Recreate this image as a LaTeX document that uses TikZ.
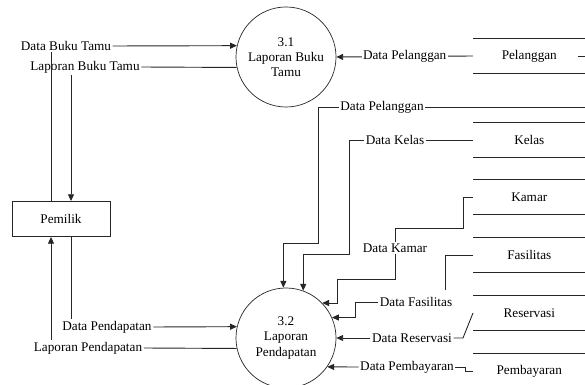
\documentclass[tikz,border=0pt]{standalone}
\usepackage{fontspec}
\setmainfont{Liberation Serif}
\usetikzlibrary{arrows.meta}
\newcommand{\dfdfont}{\fontsize{9.4}{10.8}\selectfont}

\begin{document}
\begin{tikzpicture}[
      x=0.025cm, y=-0.025cm,
      proc/.style={circle, draw=black!85, line width=0.5pt, minimum size=2.5cm, inner sep=0pt, align=center, font=\dfdfont},
      entity/.style={draw=black!85, line width=0.6pt, minimum width=2.45cm, minimum height=0.875cm, font=\dfdfont},
      store/.style={minimum width=2.8cm, minimum height=0.875cm, inner sep=0pt, font=\dfdfont},
      lbl/.style={inner sep=1pt, text=black, font=\dfdfont},
      flow/.style={line width=0.65pt, black!85},
      arrow/.style={flow, -{Triangle[length=1.7mm, width=1.5mm]}}
  ]
      \useasboundingbox (0,0) rectangle (585,385);

      \node[proc] (lapbuku) at (286,57) {3.1\\Laporan Buku\\Tamu};
      \node[proc] (lappend) at (286,338) {3.2\\Laporan\\Pendapatan};
      \node[entity] (pemilik) at (61,219) {Pemilik};

      \foreach \name/\ypos/\txt in {pelanggan/56/Pelanggan, kelas/140/Kelas, kamar/197/Kamar,
          fasilitas/255/Fasilitas, reservasi/313/Reservasi, pembayaran/371/Pembayaran}{
        \node[store, anchor=west] (\name) at (473,\ypos) {\txt};
        \draw[flow] (\name.north west) -- (\name.north east) (\name.south west) -- (\name.south east);
      }

      \node[lbl] (dbt) at (66,46) {Data Buku Tamu};
      \node[lbl] (lbt) at (85,67) {Laporan Buku Tamu};
      \node[lbl] (dpd) at (107,327) {Data Pendapatan};
      \node[lbl] (lpd) at (88,348) {Laporan Pendapatan};
      \node[lbl] (dpl2) at (382,107) {Data Pelanggan};
      \node[lbl] (dkl) at (395,140) {Data Kelas};
      \node[lbl] (dkm) at (395,248) {Data Kamar};
      \node[lbl] (dfs) at (416,302) {Data Fasilitas};
      \node[lbl] (drs) at (412,338) {Data Reservasi};
      \node[lbl] (dpb) at (407,367) {Data Pembayaran};

      \coordinate (pemL) at (51,219);
      \coordinate (pemR) at (71,219);
      \coordinate (pelOut) at (578,56);
      \coordinate (fasEnd) at (445,290);

      % pemilik - 3.1
      \draw[flow] (pemL |- pemilik.north) -- (pemL |- dbt.south);
      \draw[arrow] (dbt.east) -- (lapbuku.167);
      \draw[flow] (lapbuku.192) -- (lbt.east);
      \draw[arrow] (pemR |- lbt.south) -- (pemR |- pemilik.north);

      % pemilik - 3.2
      \draw[flow] (pemR |- pemilik.south) -- (pemR |- dpd.north);
      \draw[arrow] (dpd.east) -- (lappend.167);
      \draw[flow] (lappend.192) -- (lpd.east);
      \draw[arrow] (pemL |- lpd.north) -- (pemL |- pemilik.south);

      % data stores
      \draw[arrow] (pelanggan.west) -- node[lbl, fill=white] (dpl1) {Data Pelanggan} (lapbuku.east);
      \draw[flow] (pelOut) -- (600,56) |- (dpl2.east);
      \draw[arrow] (dpl2.west) -| (318,243) -| (lappend.93);
      \draw[flow] (kelas.west) -- (dkl.east);
      \draw[arrow] (dkl.west) -| (349,254) -| (lappend.70);
      \draw[flow] (kamar.west) -| (463,228) -| (dkm.north);
      \draw[arrow] (dkm.south) |- (337,279) |- (lappend.44);
      \draw[flow] (fasilitas.west) -| (fasEnd);
      \draw[arrow] (dfs.west) -- ++(-23,0) |- (lappend.24);
      \draw[flow] (reservasi.west) -- (463,338) -- (drs.east);
      \draw[arrow] (drs.west) -- (lappend.east);
      \draw[flow] (pembayaran.west) -- ++(-8,0) |- (dpb.east);
      \draw[arrow] (dpb.west) -- (lappend.-35);
  \end{tikzpicture}
\end{document}
